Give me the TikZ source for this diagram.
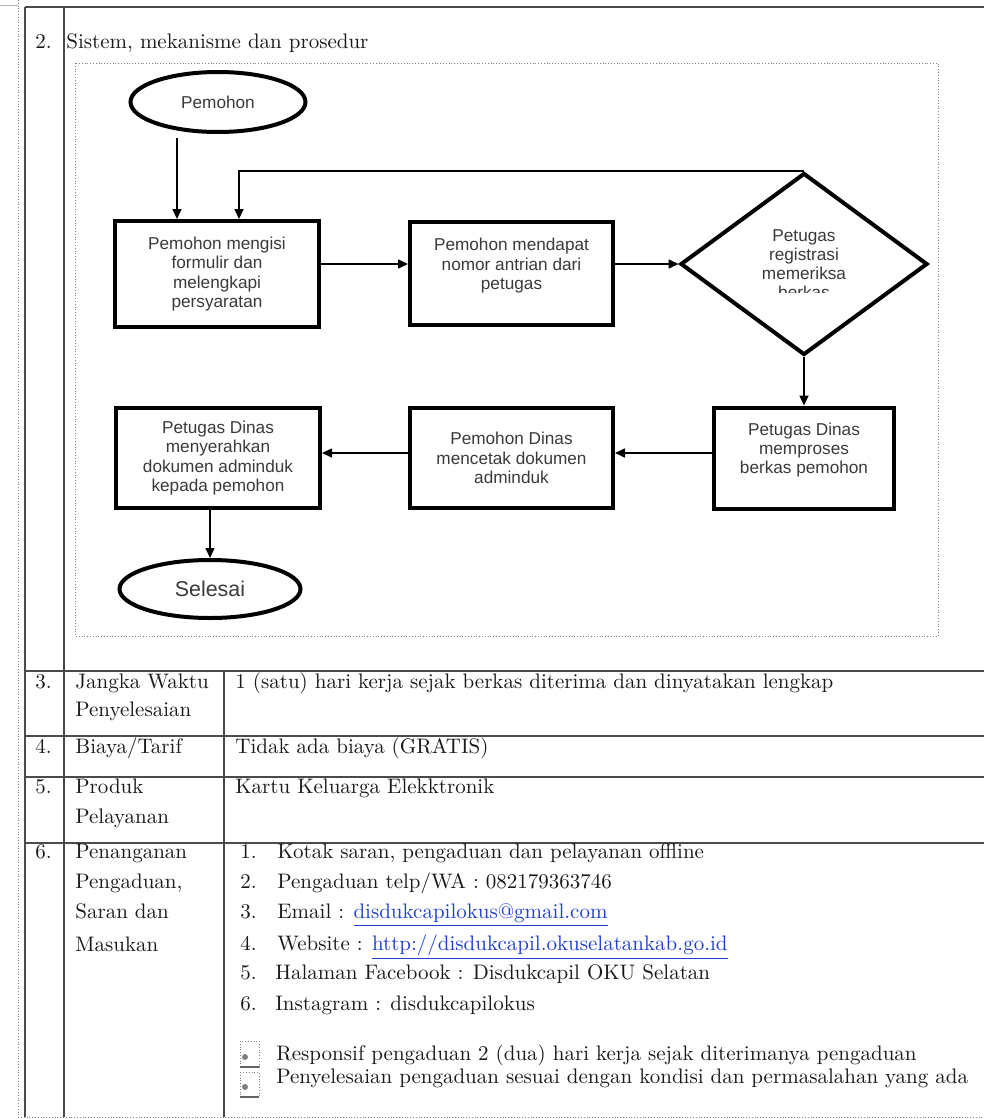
\documentclass[tikz,border=0pt]{standalone}
\usepackage{fontspec}
\usepackage{xcolor}
\usepackage{tikz}
\usetikzlibrary{shapes.geometric,arrows.meta,calc}
\newfontfamily\flowfont{Liberation Sans}
\definecolor{flowtext}{HTML}{3A3A3A}
\definecolor{rulegray}{HTML}{4A4A4A}
\definecolor{linkblue}{HTML}{1F3FD0}

\begin{document}
\begin{tikzpicture}[x=0.5pt,y=-0.5pt,
  proc/.style={draw, line width=2pt, rectangle, align=center, inner sep=0pt,
    font=\flowfont\fontsize{8.6}{9.6}\selectfont, text=flowtext},
  term/.style={draw, line width=2pt, ellipse, inner sep=0pt, text=flowtext},
  decide/.style={draw, line width=2pt, diamond, align=center, inner sep=0pt,
    font=\flowfont\fontsize{8.6}{9.6}\selectfont, text=flowtext},
  arr/.style={line width=0.8pt, -{Triangle[length=5pt,width=4.5pt]}},
  txt/.style={anchor=base west, inner sep=0pt, font=\fontsize{10.5}{14}\selectfont, text=black!90},
  tabline/.style={rulegray, line width=0.6pt}]
\useasboundingbox (0,0) rectangle (984,1119);

% table frame
\draw[gray, densely dotted] (18,0) -- (18,1117) -- (984,1117);
\draw[gray!60] (0,5) -- (18,5);
\draw[tabline, line width=1pt] (25,7) -- (984,7);
\draw[tabline] (25,7) -- (25,1117);
\draw[tabline] (64,7) -- (64,1117);
\draw[tabline] (224,671) -- (224,1117);
\draw[tabline] (25,671) -- (984,671);
\draw[tabline] (25,736) -- (984,736);
\draw[tabline] (25,777) -- (984,777);
\draw[tabline] (25,843) -- (984,843);

% row 2
\node[txt] (no2) at (35,48) {2.};
\node[txt] (sistem) at (66,48) {Sistem, mekanisme dan prosedur};
\draw[gray, densely dotted] (75,63) rectangle (938,636);

% flowchart
\node[term, minimum width=87.5pt, minimum height=30pt,
  font=\flowfont\fontsize{8.6}{9.6}\selectfont] (pemohon) at (218,102) {Pemohon};
\node[proc, minimum width=102pt, minimum height=53pt] (isi) at (217,274)
  {Pemohon mengisi\\formulir dan\\melengkapi\\persyaratan};
\node[proc, minimum width=101.5pt, minimum height=51.5pt] (antri) at (511.5,273.5)
  {Pemohon mendapat\\nomor antrian dari\\petugas\\~};
\node[decide, minimum width=123.5pt, minimum height=91pt] (periksa) at (804,264)
  {Petugas\\registrasi\\memeriksa\\berkas};
\fill[white] (770,293) rectangle (840,308);
\node[proc, minimum width=90pt, minimum height=50.5pt] (proses) at (804,458)
  {Petugas Dinas\\memproses\\berkas pemohon\\~};
\node[proc, minimum width=101.5pt, minimum height=50pt] (cetak) at (511.5,458)
  {Pemohon Dinas\\mencetak dokumen\\adminduk};
\node[proc, minimum width=102pt, minimum height=50pt] (serah) at (218,458)
  {Petugas Dinas\\menyerahkan\\dokumen adminduk\\kepada pemohon};
\node[term, minimum width=90.5pt, minimum height=29pt,
  font=\flowfont\fontsize{10.7}{12}\selectfont] (selesai) at (210,589) {Selesai};

\draw[arr] ($(pemohon.south)+(-41,4)$) -- ($(isi.north)+(-40,0)$);
\draw[arr] (periksa.north) -| ($(isi.north)+(22,0)$);
\draw[arr] (isi.east |- periksa.west) -- (antri.west |- periksa.west);
\draw[arr] (antri.east |- periksa.west) -- (periksa.west);
\draw[arr] (periksa.south) -- (proses.north);
\draw[arr] ($(proses.west)+(0,-5)$) -- ($(cetak.east)+(0,-5)$);
\draw[arr] ($(cetak.west)+(0,-5)$) -- ($(serah.east)+(0,-5)$);
\draw[arr] (serah.south -| selesai.north) -- (selesai.north);

% rows 3 to 5
\node[txt] (no3) at (35,688) {3.};
\node[txt] (jangka) at (75,688) {Jangka Waktu};
\node[txt] (jangkab) at (75,716) {Penyelesaian};
\node[txt] (waktu) at (235,688) {1 (satu) hari kerja sejak berkas diterima dan dinyatakan lengkap};
\node[txt] (no4) at (35,753) {4.};
\node[txt] (biaya) at (75,753) {Biaya/Tarif};
\node[txt] (tarif) at (235,753) {Tidak ada biaya (GRATIS)};
\node[txt] (no5) at (35,793) {5.};
\node[txt] (produk) at (75,793) {Produk};
\node[txt] (produkb) at (75,823) {Pelayanan};
\node[txt] (kartu) at (235,793) {Kartu Keluarga Elekktronik};

% row 6
\node[txt] (no6) at (35,858) {6.};
\node[txt] (aduan) at (75,858) {Penanganan};
\node[txt] (aduanb) at (75,888) {Pengaduan,};
\node[txt] (aduanc) at (75,918) {Saran dan};
\node[txt] (aduand) at (75,951) {Masukan};
\node[txt] (n1) at (240,858) {1.};
\node[txt] (kotak) at (277,858) {Kotak saran, pengaduan dan pelayanan offline};
\node[txt] (n2) at (240,888) {2.};
\node[txt] (telp) at (277,888) {Pengaduan telp/WA : 082179363746};
\node[txt] (n3) at (240,918) {3.};
\node[txt] (email) at (277,918) {Email : \textcolor{linkblue}{\underline{disdukcapilokus@gmail.com}}};
\node[txt] (n4) at (240,950) {4.};
\node[txt] (web) at (277,950) {Website : \textcolor{linkblue}{\underline{http://disdukcapil.okuselatankab.go.id}}};
\node[txt] (n5) at (240,979) {5.};
\node[txt] (fb) at (275,979) {Halaman Facebook : Disdukcapil OKU Selatan};
\node[txt] (n6) at (240,1010) {6.};
\node[txt] (ig) at (275,1010) {Instagram : disdukcapilokus};

% check icons
\draw[gray, densely dotted] (240,1041) rectangle (259,1067);
\draw[gray!80!black, line width=1pt] (240,1067) -- (259,1067);
\fill[gray] (245,1057) circle (3);
\draw[gray, densely dotted] (240,1072) rectangle (259,1097);
\draw[gray!80!black, line width=1pt] (240,1097) -- (259,1097);
\fill[gray] (245,1087) circle (3);
\node[txt] (respon) at (276,1060) {Responsif pengaduan 2 (dua) hari kerja sejak diterimanya pengaduan};
\node[txt] (selesaiadu) at (276,1083) {Penyelesaian pengaduan sesuai dengan kondisi dan permasalahan yang ada};
\end{tikzpicture}
\end{document}
